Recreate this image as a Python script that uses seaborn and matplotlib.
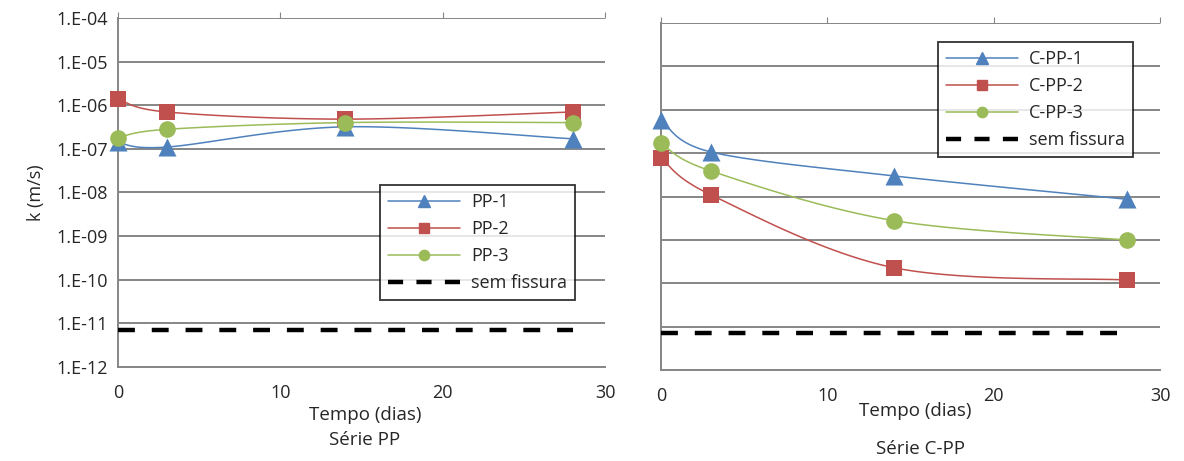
import numpy as np
import pandas as pd
import matplotlib
matplotlib.use("Agg")
import matplotlib.pyplot as plt
from matplotlib.lines import Line2D
from matplotlib.ticker import FixedLocator, FixedFormatter
import seaborn as sns

# dados
tempo = [0, 3, 14, 28]
pp_1 = [1.4e-7, 1.1e-7, 3.2e-7, 1.7e-7]
pp_2 = [1.4e-6, 7.0e-7, 4.8e-7, 7.0e-7]
pp_3 = [1.8e-7, 2.8e-7, 4.0e-7, 4.0e-7]
cpp_1 = [5.9e-7, 1.07e-7, 3.0e-8, 8.7e-9]
cpp_2 = [7.9e-8, 1.1e-8, 2.3e-10, 1.2e-10]
cpp_3 = [1.7e-7, 3.9e-8, 2.8e-9, 1.0e-9]
sem_fissura_pp = 7.0e-12
sem_fissura_cpp = 7.3e-12
tempo_ref = [0, 28]

y_ticks = [1e-12, 1e-11, 1e-10, 1e-9, 1e-8, 1e-7, 1e-6, 1e-5, 1e-4]
y_labels = ["1.E-12", "1.E-11", "1.E-10", "1.E-09", "1.E-08",
            "1.E-07", "1.E-06", "1.E-05", "1.E-04"]
x_ticks = [0, 10, 20, 30]

AZUL, VERMELHO, VERDE = "#4F81BD", "#C0504D", "#9BBB59"
CINZA = "#868686"

sns.set_style("white")
plt.rcParams["font.family"] = ["Open Sans", "DejaVu Sans"]


def suavizar(x, y, n=40):
    # curva suavizada tipo Excel (Bezier / Catmull-Rom) em escala log
    pts = np.column_stack([np.asarray(x, float), np.log10(y)])
    m = len(pts)
    t = np.linspace(0, 1, n)[:, None]
    segs = []
    for i in range(m - 1):
        p0, p1 = pts[max(i - 1, 0)], pts[i]
        p2, p3 = pts[i + 1], pts[min(i + 2, m - 1)]
        c1 = p1 + (p2 - p0) / 6
        c2 = p2 - (p3 - p1) / 6
        seg = (1 - t) ** 3 * p1 + 3 * (1 - t) ** 2 * t * c1 + 3 * (1 - t) * t ** 2 * c2 + t ** 3 * p2
        segs.append(seg)
    s = np.vstack(segs)
    return s[:, 0], 10 ** s[:, 1]


fig = plt.figure(figsize=(11.84, 4.61), dpi=100)
ax1 = fig.add_axes([0.0997, 0.204, 0.4113, 0.757])
ax2 = fig.add_axes([0.5583, 0.197, 0.4215, 0.753])

series = {
    ax1: [("PP-1", pp_1, AZUL, "^", 13), ("PP-2", pp_2, VERMELHO, "s", 11),
          ("PP-3", pp_3, VERDE, "o", 12)],
    ax2: [("C-PP-1", cpp_1, AZUL, "^", 13), ("C-PP-2", cpp_2, VERMELHO, "s", 11),
          ("C-PP-3", cpp_3, VERDE, "o", 12)],
}
ref = {ax1: sem_fissura_pp, ax2: sem_fissura_cpp}
legendas = {}

for ax in (ax1, ax2):
    ax.set_yscale("log")
    ax.set_ylim(1e-12, 1e-4)
    ax.set_xlim(0, 30)
    ax.yaxis.set_major_locator(FixedLocator(y_ticks))
    ax.yaxis.set_minor_locator(FixedLocator([]))
    ax.set_xticks(x_ticks)
    ax.grid(axis="y", color=CINZA, lw=1.4)
    ax.set_axisbelow(True)
    for lado in ("top", "right"):
        ax.spines[lado].set_visible(False)
    for lado in ("left", "bottom"):
        ax.spines[lado].set_color(CINZA)
        ax.spines[lado].set_linewidth(1.4)
    ax.tick_params(axis="x", top=True, bottom=False, labelbottom=True,
                   direction="out", length=4, color=CINZA, labelsize=13, pad=8)

    handles = []
    for nome, vals, cor, mk, ms in series[ax]:
        xs, ys = suavizar(tempo, vals)
        ax.plot(xs, ys, color=cor, lw=1.1, zorder=3)
        df = pd.DataFrame({"t": tempo, "k": vals})
        sns.scatterplot(data=df, x="t", y="k", marker=mk, s=ms ** 2, color=cor,
                        edgecolor=cor, linewidth=0, ax=ax, zorder=4, clip_on=False)
        handles.append(Line2D([], [], color=cor, lw=1.1, marker=mk, markersize=ms * 0.62,
                              label=nome))
    ax.plot(tempo_ref, [ref[ax]] * 2, color="black", lw=3.2, dashes=(3.8, 3.8), zorder=3)
    handles.append(Line2D([], [], color="black", lw=3.2, dashes=(3.4, 3.0), label="sem fissura"))
    ax.set_xlabel("")
    ax.set_ylabel("")
    legendas[ax] = handles

ax1.yaxis.set_major_formatter(FixedFormatter(y_labels))
ax1.tick_params(axis="y", left=False, labelsize=13, pad=4)
ax2.tick_params(axis="y", left=False, labelleft=False)

ax1.set_ylabel("k (m/s)", fontsize=13, labelpad=8)
ax1.text(0.507, -0.1375, "Tempo (dias)", transform=ax1.transAxes, ha="center", va="center", fontsize=13.5)
ax1.text(0.507, -0.209, "Série PP", transform=ax1.transAxes, ha="center", va="center", fontsize=13.5)
ax2.text(0.509, -0.118, "Tempo (dias)", transform=ax2.transAxes, ha="center", va="center", fontsize=13.5)
ax2.text(0.52, -0.228, "Série C-PP", transform=ax2.transAxes, ha="center", va="center", fontsize=13.5)

leg_pos = {ax1: (0.538, 0.521), ax2: (0.555, 0.945)}
for ax in (ax1, ax2):
    leg = ax.legend(handles=legendas[ax], loc="upper left", bbox_to_anchor=leg_pos[ax],
                    frameon=True, fancybox=False, fontsize=13, handlelength=4.0,
                    borderpad=0.45, labelspacing=0.5, handletextpad=0.6, borderaxespad=0)
    leg.get_frame().set_edgecolor("black")
    leg.get_frame().set_linewidth(1.3)
    leg.set_zorder(5)

fig.savefig("out.png", dpi=100)
